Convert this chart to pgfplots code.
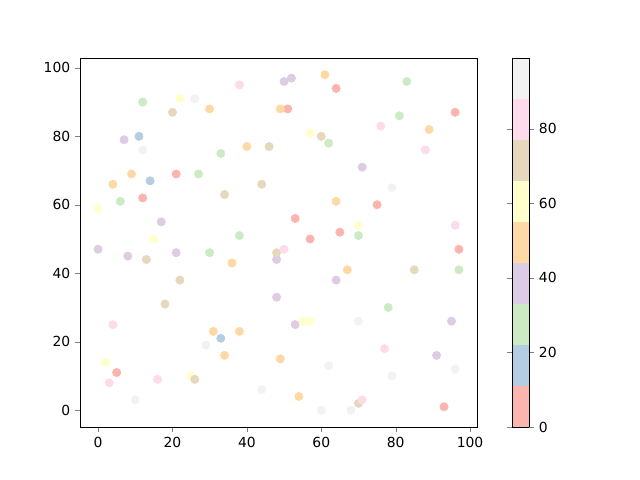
\documentclass[border=0pt]{standalone}
\usepackage{pgfplots}
\pgfplotsset{compat=1.18}
\usepackage{fontspec}
\setmainfont{DejaVu Sans}
\begin{document}
\fontsize{10}{12}\selectfont
\begin{tikzpicture}
\path[use as bounding box] (-57.6pt,-38.2pt) rectangle (403.2pt,307.4pt);
\begin{axis}[
  at={(0,0)}, anchor=south west,
  scale only axis, width=285.8pt, height=265.7pt,
  xmin=-4.85, xmax=101.85, ymin=-4.9, ymax=102.9,
  xtick={0,20,...,100}, ytick={0,20,...,100},
  tick align=outside, major tick length=3.5pt,
  xtick pos=bottom, ytick pos=left,
  /pgf/number format/assume math mode=true,
  tick label style={font=\fontsize{10}{12}\selectfont},
  colormap={pastelone}{rgb255=(251,180,174) rgb255=(179,205,227) rgb255=(204,235,197) rgb255=(222,203,228) rgb255=(254,217,166) rgb255=(255,255,204) rgb255=(229,216,189) rgb255=(253,218,236) rgb255=(242,242,242)},
  colormap access=piecewise constant,
  point meta min=0, point meta max=99,
  colorbar right,
  colorbar style={
    at={(parent axis.south east)}, anchor=south west, xshift=16.9pt,
    width=12.2pt, height=265.7pt, scale only axis,
    ytick={0,20,...,80}, tick align=outside, major tick length=3.5pt,
    /pgf/number format/assume math mode=true,
    yticklabel style={font=\fontsize{10}{12}\selectfont},
  },
  scatter/use mapped color={draw=mapped color, fill=mapped color},
]
\addplot[scatter, only marks, mark=*, mark size=3pt, scatter src=explicit] table[meta=c] {
x y c
12 62 5
21 69 5
51 88 5
64 94 5
53 56 5
57 50 5
65 52 5
96 87 5
75 60 5
97 47 5
5 11 5
93 1 5
11 80 16
14 67 16
33 21 16
12 90 27
33 75 27
27 69 27
6 61 27
62 78 27
38 51 27
83 96 27
81 86 27
70 51 27
30 46 27
97 41 27
78 30 27
7 79 38
17 55 38
50 96 38
52 97 38
71 71 38
0 47 38
8 45 38
21 46 38
48 44 38
64 38 38
48 33 38
53 25 38
95 26 38
91 16 38
30 88 49
9 69 49
4 66 49
61 98 49
49 88 49
40 77 49
64 61 49
89 82 49
31 23 49
34 16 49
36 43 49
67 41 49
38 23 49
49 15 49
54 4 49
22 91 60
0 59 60
15 50 60
57 81 60
70 54 60
2 14 60
25 10 60
55 26 60
57 26 60
20 87 71
34 63 71
60 80 71
46 77 71
44 66 71
13 44 71
22 38 71
18 31 71
26 9 71
48 46 71
85 41 71
70 2 71
38 95 82
76 83 82
88 76 82
96 54 82
4 25 82
3 8 82
16 9 82
50 47 82
77 18 82
71 3 82
26 91 93
12 76 93
79 65 93
29 19 93
10 3 93
62 13 93
44 6 93
60 0 93
68 0 93
70 26 93
96 12 93
79 10 93
};
\end{axis}
\end{tikzpicture}
\end{document}
